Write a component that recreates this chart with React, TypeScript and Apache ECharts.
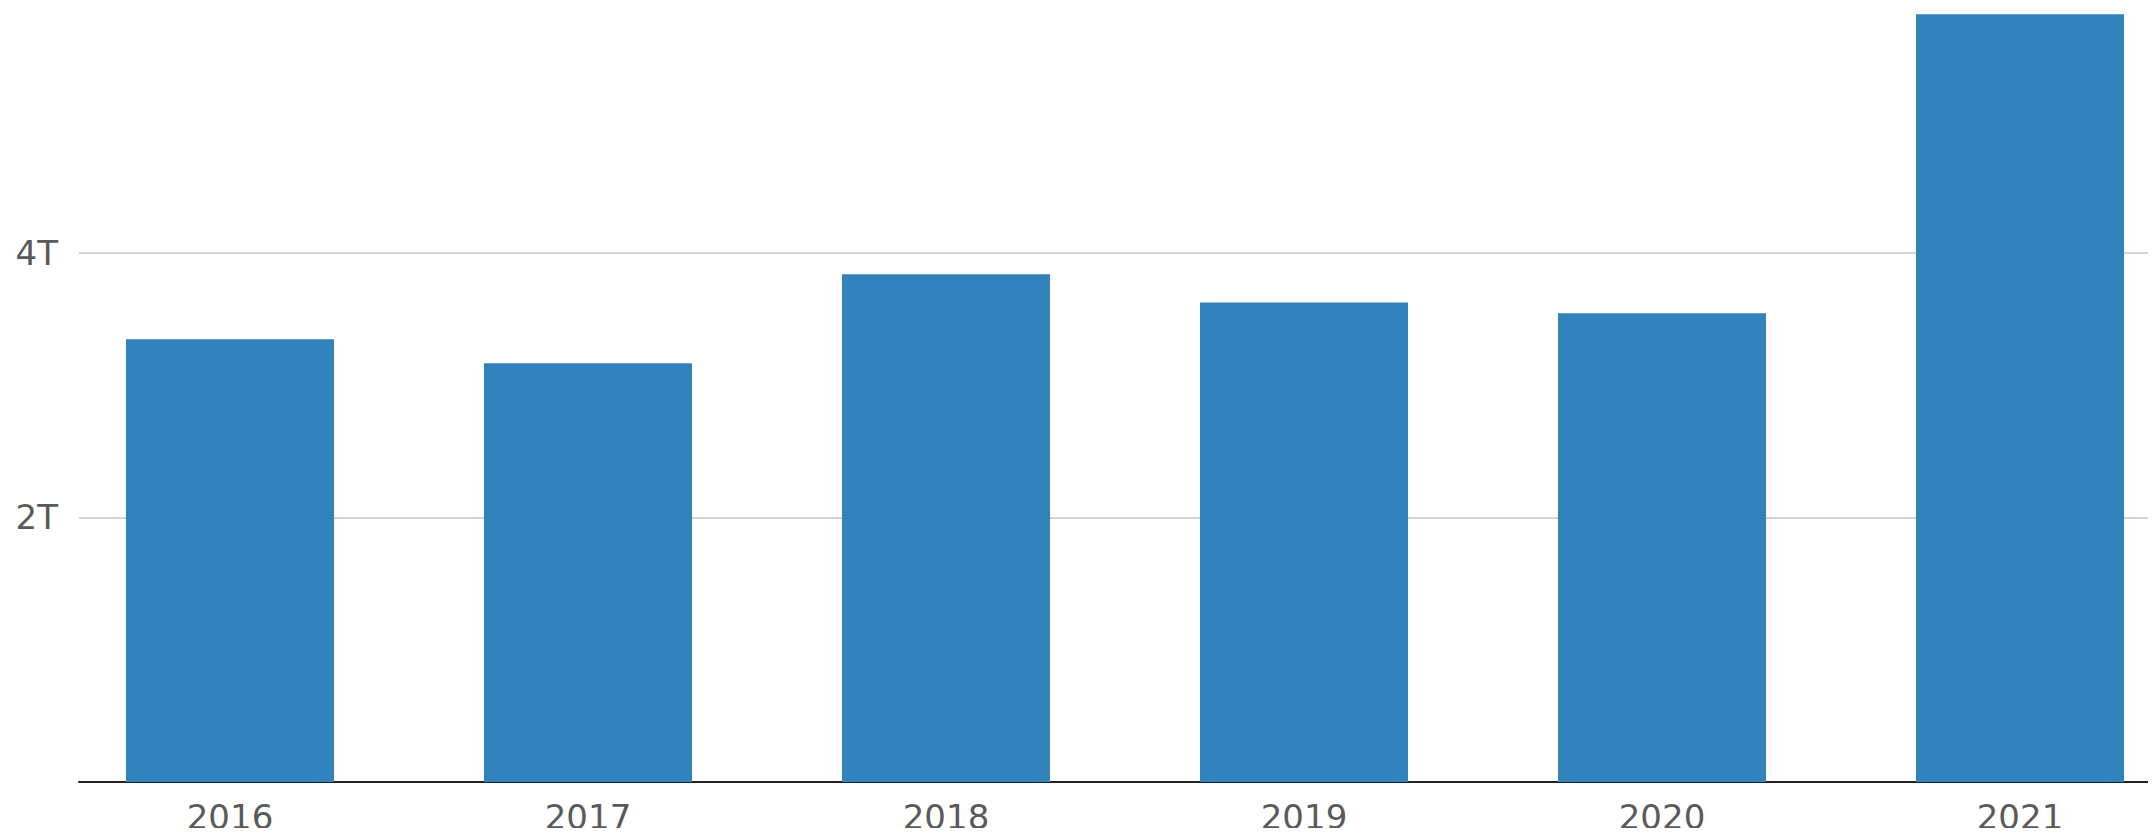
import React, { useEffect, useRef } from "react";
import * as echarts from "echarts";

const years = ["2016", "2017", "2018", "2019", "2020", "2021"];
const valuesT = [3.347, 3.166, 3.839, 3.626, 3.544, 5.805];
const yTickLabels: Record<number, string> = { 2: "2T", 4: "4T" };
const yMax = 5.913;

export default function App() {
  const ref = useRef<HTMLDivElement>(null);
  useEffect(() => {
    if (!ref.current) return;
    const chart = echarts.init(ref.current, null, { renderer: "svg" });
    const labelFont = {
      fontFamily: "DejaVu Sans",
      fontSize: 34,
      color: "#5a5a5a",
    };
    chart.setOption({
      animation: false,
      grid: [
        { left: 51, right: -43, top: 0, bottom: 54, outerBoundsMode: "none", containLabel: false },
        { left: 79, right: 0, top: 0, bottom: 54, outerBoundsMode: "none", containLabel: false },
      ],
      xAxis: [
        {
          type: "category",
          gridIndex: 0,
          data: years,
          axisLine: { show: false },
          axisTick: { show: false },
          axisLabel: { ...labelFont, margin: 18 },
        },
        {
          type: "value",
          gridIndex: 1,
          min: 0,
          max: 1,
          axisLine: { show: true, onZero: false, lineStyle: { color: "#222222", width: 2 } },
          axisTick: { show: false },
          axisLabel: { show: false },
          splitLine: { show: false },
        },
      ],
      yAxis: [
        {
          type: "value",
          gridIndex: 0,
          min: 0,
          max: yMax,
          show: false,
          splitLine: { show: false },
        },
        {
          type: "value",
          gridIndex: 1,
          min: 0,
          max: yMax,
          interval: 2,
          axisLine: { show: false },
          axisTick: { show: false },
          splitLine: { show: true, lineStyle: { color: "#c4c4c4", width: 1.5 } },
          axisLabel: {
            ...labelFont,
            margin: 21,
            showMaxLabel: false,
            formatter: (v: number) => yTickLabels[v] ?? "",
          },
        },
      ],
      series: [
        {
          type: "bar",
          xAxisIndex: 0,
          yAxisIndex: 0,
          data: valuesT,
          barWidth: 208,
          itemStyle: { color: "#3182bd" },
          z: 2,
        },
      ],
    });
    return () => chart.dispose();
  }, []);
  return <div ref={ref} style={{ width: 2156, height: 836, margin: -8 }} />;
}
